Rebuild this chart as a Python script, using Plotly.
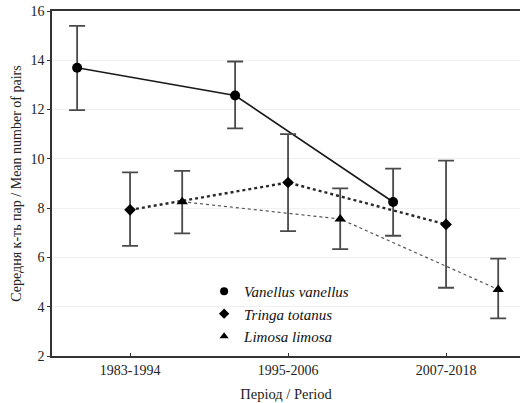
import plotly.graph_objects as go

periods = ["1983-1994", "1995-2006", "2007-2018"]

vanellus_mean = [13.7, 12.57, 8.25]
vanellus_upper = [15.4, 13.95, 9.6]
vanellus_lower = [11.98, 11.24, 6.88]

tringa_mean = [7.93, 9.04, 7.34]
tringa_upper = [9.45, 11.0, 9.93]
tringa_lower = [6.47, 7.07, 4.77]

limosa_mean = [8.26, 7.56, 4.7]
limosa_upper = [9.51, 8.8, 5.95]
limosa_lower = [6.98, 6.34, 3.53]

SERIF = "Liberation Serif"

series = [
    ("Vanellus vanellus", vanellus_mean, vanellus_upper, vanellus_lower, -0.335,
     dict(color="#1a1a1a", width=1.6, dash="solid"), dict(symbol="circle", size=10, color="#000")),
    ("Tringa totanus", tringa_mean, tringa_upper, tringa_lower, 0.0,
     dict(color="#2a2a2a", width=2.4, dash="dot"), dict(symbol="diamond", size=9, color="#000")),
    ("Limosa limosa", limosa_mean, limosa_upper, limosa_lower, 0.33,
     dict(color="#555", width=1.2, dash="dot"), dict(symbol="triangle-up", size=10, color="#000")),
]

fig = go.Figure()
for name, mean, up, lo, off, line, marker in series:
    xs = [i + off for i in range(len(periods))]
    fig.add_trace(go.Scatter(
        x=xs, y=mean, name=name, mode="lines+markers", showlegend=False,
        line=line, marker=marker,
        error_y=dict(type="data", symmetric=False,
                     array=[u - m for u, m in zip(up, mean)],
                     arrayminus=[m - l for m, l in zip(mean, lo)],
                     color="#4a4a4a", thickness=1.8, width=8),
    ))
for name, mean, up, lo, off, line, marker in series:
    fig.add_trace(go.Scatter(
        x=[None], y=[None], name=name, mode="markers", showlegend=True,
        marker=dict(marker, size=8),
    ))

fig.update_layout(
    width=520, height=403,
    margin=dict(l=52, r=0, t=11, b=47),
    paper_bgcolor="white", plot_bgcolor="white",
    font=dict(family=SERIF, size=13, color="#222"),
    showlegend=True,
    legend=dict(x=0.325, y=0.235, xanchor="left", yanchor="top",
                bgcolor="rgba(0,0,0,0)",
                font=dict(family=SERIF, size=15, color="#111", style="italic"),
                tracegroupgap=0, itemwidth=30),
)
fig.update_xaxes(
    range=[-0.494, 2.468], tickmode="array", tickvals=[0, 1, 2], ticktext=periods,
    showline=True, linecolor="#333", linewidth=1.5, mirror=True, automargin=False,
    ticks="inside", ticklen=3, tickcolor="#333", showgrid=False, zeroline=False,
    title=dict(text="Період / Period", font=dict(family=SERIF, size=14.5), standoff=12),
    tickfont=dict(family=SERIF, size=14),
)
fig.update_yaxes(
    range=[2, 16], dtick=2, showline=True, linecolor="#333", linewidth=1.5, automargin=False,
    ticks="outside", ticklen=3, tickcolor="#333",
    showgrid=True, gridcolor="#f0f0f0", gridwidth=1, zeroline=False,
    title=dict(text="Середня к-ть пар / Mean number of pairs", font=dict(family=SERIF, size=14), standoff=6),
    tickfont=dict(family=SERIF, size=14),
)

fig.write_html("out.html", config={"displayModeBar": False},
               post_script="document.body.style.margin='0';")
